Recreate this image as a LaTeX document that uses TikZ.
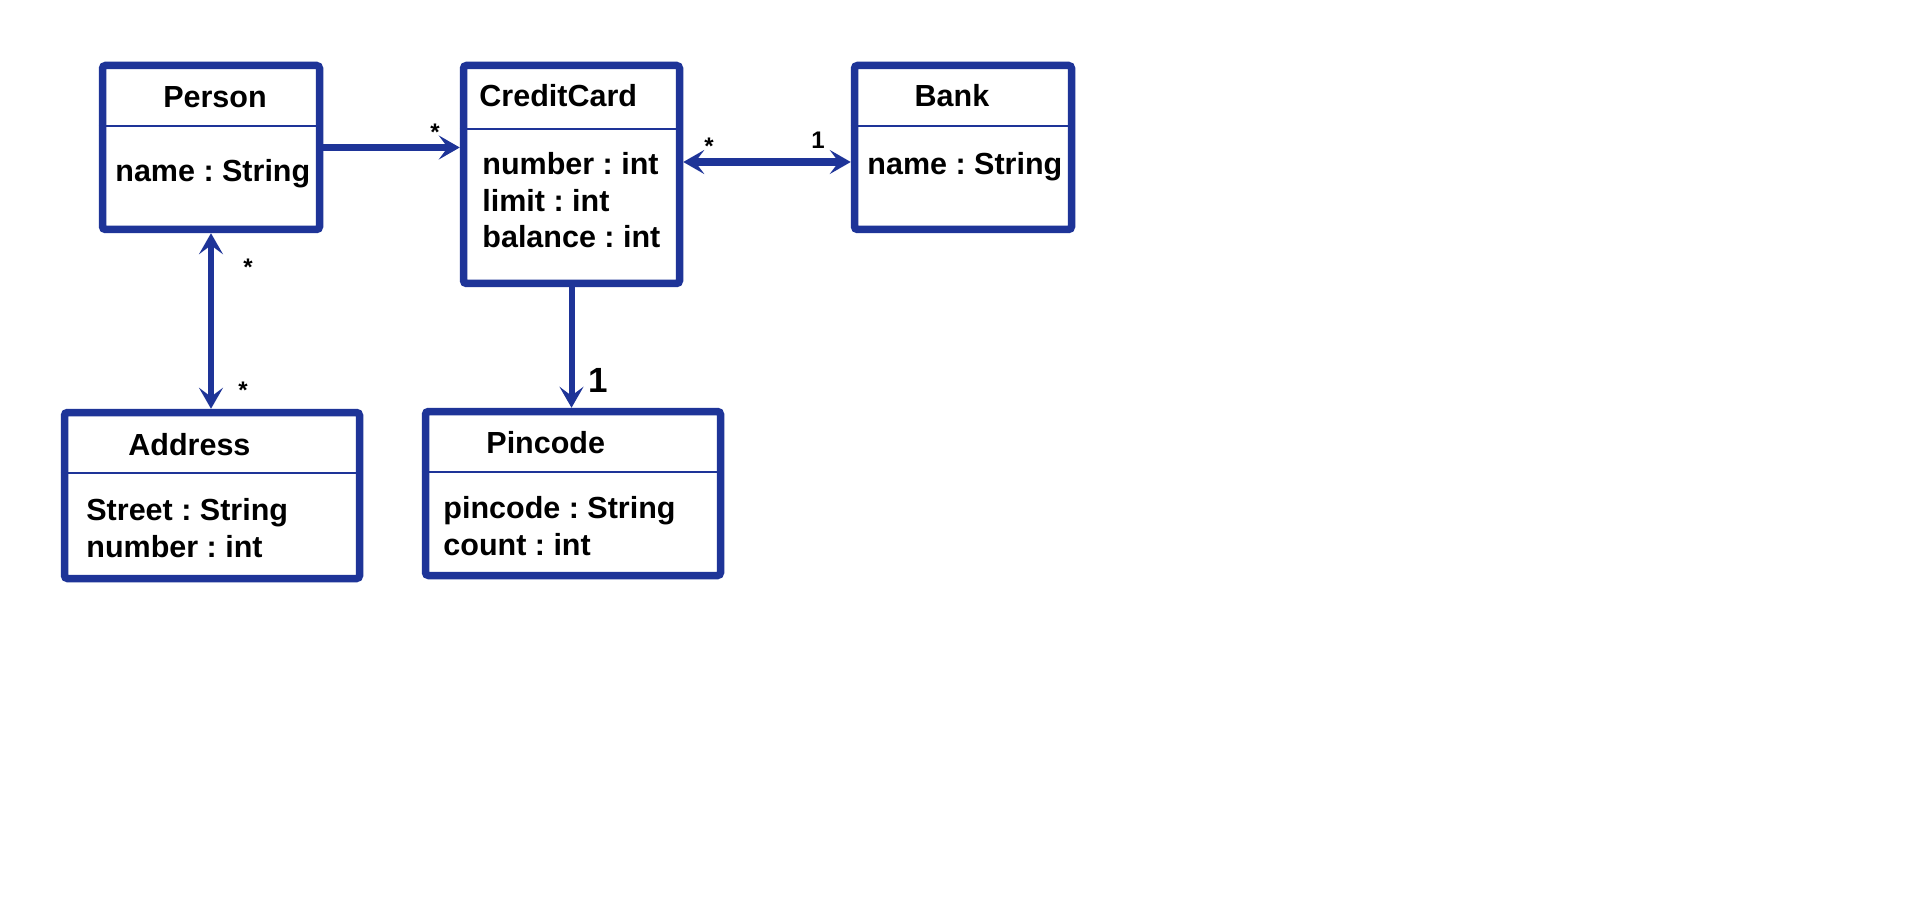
\documentclass[tikz,border=0pt]{standalone}
\usepackage{fontspec}
\setmainfont{Liberation Sans}
\usetikzlibrary{arrows.meta}
\frenchspacing
\definecolor{umlblue}{RGB}{30,52,152}
\tikzset{
  umlbox/.style={draw=umlblue, line width=3.75pt, rounded corners=1.5pt, inner sep=0pt, fill=white},
  hdrline/.style={draw=umlblue, line width=1.3pt},
  txt/.style={inner sep=0pt, font=\fontsize{15.25}{18.5}\selectfont\bfseries, text=black},
  small/.style={inner sep=0pt, font=\fontsize{12}{14}\selectfont\bfseries, text=black},
  big/.style={inner sep=0pt, font=\fontsize{17.5}{20}\selectfont\bfseries, text=black},
  tipA/.tip={Stealth[length=10.5pt, width=12pt, inset=4.5pt]},
  assoc/.style={draw=umlblue, line width=3.4pt},
  vassoc/.style={draw=umlblue, line width=3pt},
}
\begin{document}
\begin{tikzpicture}[x=0.5pt, y=-0.5pt]
\useasboundingbox[fill=white] (0,0) rectangle (1914,903);

% boxes
\node[umlbox, minimum width=108.5pt, minimum height=82pt] (person) at (211,147.5) {};
\node[umlbox, minimum width=108pt, minimum height=109pt] (cc) at (571.5,174.5) {};
\node[umlbox, minimum width=108.5pt, minimum height=82pt] (bank) at (963,147.5) {};
\node[umlbox, minimum width=147.5pt, minimum height=83pt] (address) at (212,495.5) {};
\node[umlbox, minimum width=147.5pt, minimum height=82pt] (pincode) at (573,493.5) {};

% header separators
\draw[hdrline] (person.west |- 0,126) -- (person.east |- 0,126);
\draw[hdrline] (cc.west |- 0,129) -- (cc.east |- 0,129);
\draw[hdrline] (bank.west |- 0,126) -- (bank.east |- 0,126);
\draw[hdrline] (address.west |- 0,473) -- (address.east |- 0,473);
\draw[hdrline] (pincode.west |- 0,472) -- (pincode.east |- 0,472);

% titles
\node[txt, anchor=base] (tperson) at (215,108) {Person};
\node[txt, anchor=base west] (tcc) at (479,107) {CreditCard};
\node[txt, anchor=base] (tbank) at (952,107) {Bank};
\node[txt, anchor=base west] (taddress) at (128,455) {Address};
\node[txt, anchor=base west] (tpincode) at (486,453) {Pincode};

% attributes
\node[txt, anchor=base west] (aperson) at (115,182) {name : String};
\node[txt, anchor=base west] (acc1) at (482,175) {number : int};
\node[txt, anchor=base west] (acc2) at (482,212) {limit : int};
\node[txt, anchor=base west] (acc3) at (482,248) {balance : int};
\node[txt, anchor=base west] (abank) at (867,175) {name : String};
\node[txt, anchor=base west] (aaddr1) at (86,520) {Street : String};
\node[txt, anchor=base west] (aaddr2) at (86,557) {number : int};
\node[txt, anchor=base west] (apin1) at (443,518) {pincode : String};
\node[txt, anchor=base west] (apin2) at (443,555) {count : int};

% connectors
\draw[assoc, -tipA] (person.east) -- (person.east -| cc.west);
\draw[assoc, line width=4pt, tipA-tipA] (cc.east |- 0,162) -- (bank.west |- 0,162);
\draw[vassoc, tipA-tipA] (person.south) -- (person.south |- address.north);
\draw[vassoc, -tipA] (cc.south) -- (cc.south |- pincode.north);

% multiplicities
\node[small, anchor=base] (m1) at (435,141) {*};
\node[small, anchor=base] (m2) at (709,155) {*};
\node[small, anchor=base] (m3) at (818,148.5) {1};
\node[small, anchor=base] (m4) at (248,276) {*};
\node[small, anchor=base] (m5) at (243,398) {*};
\node[big, anchor=base] (m6) at (598,392.5) {1};
\end{tikzpicture}
\end{document}
